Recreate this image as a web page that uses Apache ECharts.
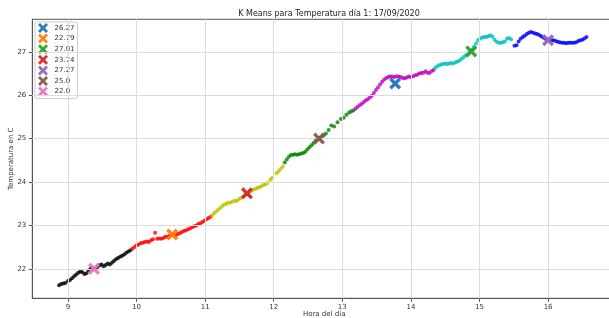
<!DOCTYPE html>
<html>
<head>
<meta charset="utf-8">
<script src="https://cdn.jsdelivr.net/npm/echarts@6/dist/echarts.min.js"></script>
<style>
html,body{margin:0;padding:0;background:#fff;}
#c{width:609px;height:318px;}
</style>
</head>
<body>
<div id="c"></div>
<script>
// ---- data (hour of day, temperature °C) ----
const blackPts = [[8.87,21.62],[8.90,21.65],[8.93,21.66],[8.96,21.67],[9.00,21.72],[9.03,21.74],[9.06,21.78],[9.09,21.83],[9.12,21.87],[9.15,21.91],[9.18,21.94],[9.21,21.92],[9.24,21.88],[9.27,21.90],[9.30,21.96],[9.33,22.00],[9.36,22.02],[9.40,22.00],[9.43,22.04],[9.46,22.08],[9.49,22.10],[9.52,22.06],[9.55,22.09],[9.58,22.12],[9.61,22.10],[9.64,22.14],[9.67,22.18],[9.70,22.22],[9.73,22.25],[9.76,22.28],[9.79,22.30],[9.82,22.33],[9.85,22.37],[9.88,22.40],[9.91,22.43]];
const redPts = [[9.94,22.46],[9.97,22.50],[10.00,22.54],[10.03,22.56],[10.06,22.59],[10.09,22.60],[10.12,22.62],[10.15,22.63],[10.18,22.62],[10.21,22.66],[10.24,22.68],[10.27,22.83],[10.30,22.69],[10.33,22.70],[10.36,22.69],[10.39,22.71],[10.42,22.74],[10.45,22.73],[10.48,22.76],[10.51,22.78],[10.54,22.78],[10.57,22.77],[10.60,22.80],[10.63,22.82],[10.66,22.85],[10.69,22.87],[10.72,22.88],[10.75,22.91],[10.78,22.93],[10.81,22.96],[10.84,22.98],[10.87,23.00],[10.90,23.03],[10.93,23.05],[10.96,23.08],[10.99,23.11],[11.02,23.14],[11.05,23.17],[11.08,23.20]];
const yellowPts = [[11.10,23.23],[11.13,23.28],[11.16,23.32],[11.19,23.36],[11.22,23.40],[11.25,23.45],[11.28,23.48],[11.31,23.50],[11.34,23.53],[11.37,23.52],[11.40,23.55],[11.43,23.57],[11.46,23.56],[11.49,23.60],[11.52,23.63],[11.55,23.66],[11.58,23.70],[11.61,23.73],[11.64,23.76],[11.67,23.79],[11.70,23.82],[11.73,23.84],[11.76,23.86],[11.79,23.88],[11.82,23.90],[11.85,23.93],[11.88,23.95],[11.91,23.98],[11.95,24.05],[11.98,24.10],[12.04,24.20],[12.07,24.25],[12.10,24.30],[12.13,24.35]];
const greenPts = [[12.16,24.45],[12.19,24.52],[12.22,24.58],[12.25,24.62],[12.28,24.63],[12.31,24.64],[12.34,24.63],[12.37,24.64],[12.40,24.66],[12.43,24.67],[12.46,24.70],[12.49,24.75],[12.52,24.80],[12.55,24.85],[12.58,24.90],[12.61,24.95],[12.64,25.00],[12.67,25.02],[12.70,25.04],[12.73,25.08],[12.76,25.12],[12.80,25.20],[12.84,25.30],[12.88,25.28],[12.93,25.38],[12.98,25.45],[13.02,25.48],[13.06,25.55],[13.10,25.60],[13.13,25.63],[13.16,25.65]];
const magentaPts = [[13.19,25.69],[13.22,25.73],[13.25,25.77],[13.28,25.80],[13.31,25.84],[13.34,25.88],[13.37,25.91],[13.40,25.95],[13.43,25.99],[13.46,26.05],[13.49,26.12],[13.52,26.18],[13.55,26.25],[13.58,26.31],[13.61,26.36],[13.64,26.40],[13.67,26.42],[13.70,26.43],[13.73,26.43],[13.76,26.42],[13.79,26.44],[13.82,26.43],[13.85,26.42],[13.88,26.40],[13.91,26.39],[13.94,26.41],[13.97,26.43],[14.00,26.42],[14.03,26.44],[14.06,26.46],[14.09,26.47],[14.12,26.50],[14.15,26.51],[14.18,26.52],[14.21,26.55],[14.24,26.52],[14.27,26.51],[14.30,26.55],[14.33,26.58]];
const cyanPts = [[14.35,26.62],[14.38,26.66],[14.41,26.69],[14.44,26.71],[14.47,26.72],[14.50,26.73],[14.53,26.72],[14.56,26.73],[14.59,26.74],[14.62,26.73],[14.65,26.76],[14.68,26.78],[14.71,26.80],[14.74,26.84],[14.77,26.88],[14.80,26.92],[14.83,26.96],[14.86,27.00],[14.89,27.05],[14.92,27.12],[14.95,27.19],[14.98,27.27],[15.01,27.31],[15.04,27.33],[15.07,27.34],[15.10,27.34],[15.13,27.36],[15.16,27.38],[15.19,27.35],[15.22,27.28],[15.25,27.23],[15.28,27.21],[15.31,27.21],[15.34,27.22],[15.37,27.24],[15.40,27.30],[15.43,27.32],[15.46,27.29]];
const bluePts = [[15.51,27.14],[15.54,27.15],[15.57,27.24],[15.60,27.30],[15.63,27.34],[15.66,27.37],[15.69,27.41],[15.72,27.44],[15.75,27.46],[15.78,27.44],[15.81,27.42],[15.84,27.41],[15.87,27.39],[15.90,27.36],[15.93,27.33],[15.96,27.30],[15.99,27.28],[16.02,27.27],[16.05,27.27],[16.08,27.27],[16.11,27.25],[16.14,27.23],[16.17,27.22],[16.20,27.21],[16.23,27.21],[16.26,27.20],[16.29,27.21],[16.32,27.21],[16.35,27.21],[16.38,27.21],[16.41,27.22],[16.44,27.25],[16.47,27.27],[16.50,27.28],[16.53,27.31],[16.56,27.34]];

const centroidLabels = ['26.27','22.79','27.01','23.74','27.27','25.0','22.0'];
const centroidHour   = [13.77, 10.52, 14.88, 11.61, 16.00, 12.66, 9.38];
const centroidTemp   = [26.27, 22.79, 27.01, 23.74, 27.27, 25.00, 22.00];

const xTicks = [9,10,11,12,13,14,15,16];
const yTicks = [22,23,24,25,26,27];

// ---- styling ----
const clusterColors = ['#000000','#ff0000','#bfbf00','#008000','#bf00bf','#00bfbf','#0000ff'];
const centroidColors = ['#1f77b4','#ff7f0e','#2ca02c','#d62728','#9467bd','#8c564b','#e377c2'];
const X_PATH = 'path://M0,2 L2,0 L5,3 L8,0 L10,2 L7,5 L10,8 L8,10 L5,7 L2,10 L0,8 L3,5 Z';
const FONT = 'DejaVu Sans';

const clusters = [blackPts, redPts, yellowPts, greenPts, magentaPts, cyanPts, bluePts];

const series = [];
// gridlines through the axis scales
series.push({
  type: 'line', data: [], silent: true, z: 1,
  markLine: {
    silent: true, symbol: ['none','none'], label: {show: false},
    lineStyle: {color: '#dcdcdc', width: 1, type: 'solid'},
    animation: false,
    data: xTicks.map(v => ({xAxis: v})).concat(yTicks.map(v => ({yAxis: v})))
  }
});
clusters.forEach((pts, i) => {
  series.push({
    type: 'scatter', data: pts, symbol: 'circle', symbolSize: 4,
    itemStyle: {color: clusterColors[i]}, z: 2, silent: true
  });
});
centroidLabels.forEach((lab, i) => {
  series.push({
    name: lab, type: 'scatter', symbol: X_PATH, symbolSize: 12,
    data: [[centroidHour[i], centroidTemp[i]]],
    itemStyle: {color: centroidColors[i], opacity: 0.95}, z: 5, silent: true
  });
});

const chart = echarts.init(document.getElementById('c'), null, {renderer: 'canvas'});
chart.setOption({
  animation: false,
  backgroundColor: '#ffffff',
  textStyle: {fontFamily: FONT},
  title: {
    text: 'K Means para Temperatura día 1: 17/09/2020',
    left: 324, top: 5, textAlign: 'center',
    textStyle: {fontFamily: FONT, fontSize: 8, fontWeight: 'normal', color: '#222'}
  },
  legend: {
    data: centroidLabels.map((n, i) => ({name: n, icon: X_PATH})),
    orient: 'vertical', left: 35, top: 22,
    itemWidth: 11, itemHeight: 10, itemGap: 0.6,
    padding: [1, 3, 2, 3],
    borderColor: '#cccccc', borderWidth: 1, borderRadius: 2,
    backgroundColor: '#ffffff',
    textStyle: {fontFamily: FONT, fontSize: 7, color: '#333', padding: [0,0,0,1]},
    selectedMode: false
  },
  grid: {
    left: 32.3, top: 19.3, right: -7, bottom: 19.7,
    outerBoundsMode: 'none',
    show: true, borderColor: '#555', borderWidth: 1, containLabel: false
  },
  xAxis: {
    type: 'value', min: 8.48, max: 16.99,
    name: 'Hora del día', nameLocation: 'middle', nameGap: 12, nameMoveOverlap: false,
    nameTextStyle: {fontFamily: FONT, fontSize: 7, color: '#333'},
    axisLine: {show: true, lineStyle: {color: '#555', width: 1}},
    axisTick: {show: true, length: 3.5, inside: false, customValues: xTicks, lineStyle: {color: '#555'}},
    axisLabel: {customValues: xTicks, fontFamily: FONT, fontSize: 7, color: '#333', margin: 5},
    splitLine: {show: false}
  },
  yAxis: {
    type: 'value', min: 21.32, max: 27.75,
    name: 'Temperatura en C', nameLocation: 'middle', nameGap: 18, nameRotate: 90, nameMoveOverlap: false,
    nameTextStyle: {fontFamily: FONT, fontSize: 7, color: '#333'},
    axisLine: {show: true, lineStyle: {color: '#555', width: 1}},
    axisTick: {show: true, length: 3.5, inside: false, customValues: yTicks, lineStyle: {color: '#555'}},
    axisLabel: {customValues: yTicks, fontFamily: FONT, fontSize: 7, color: '#333', margin: 6},
    splitLine: {show: false}
  },
  series: series
});
</script>
</body>
</html>
